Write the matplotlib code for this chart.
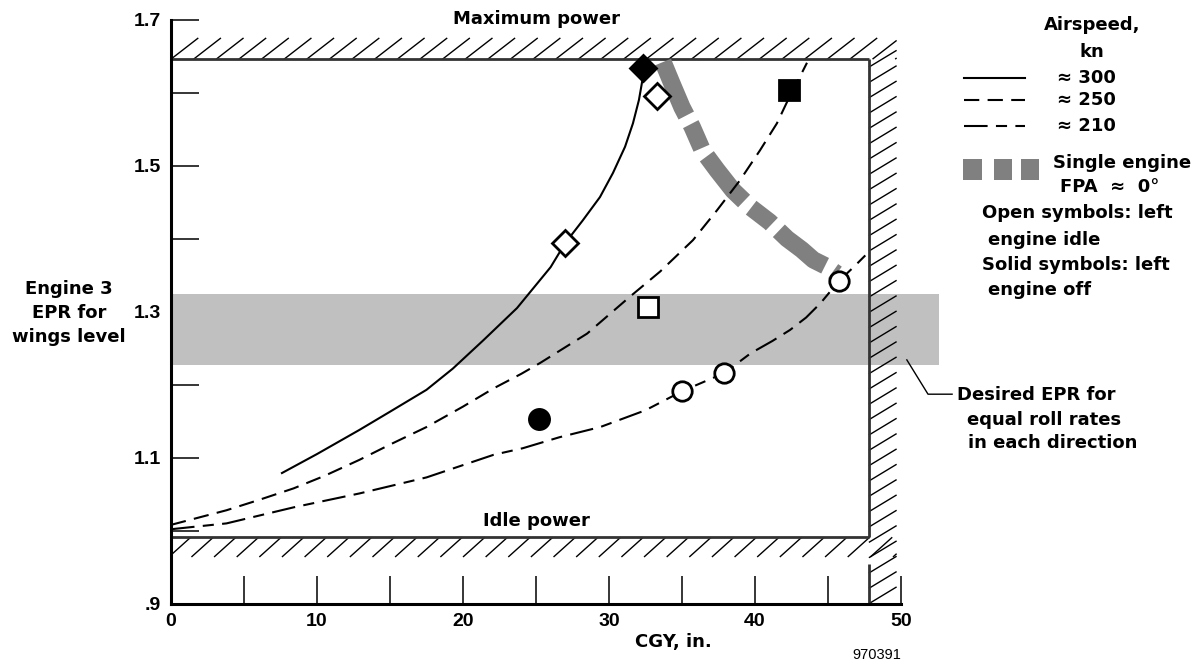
import matplotlib
matplotlib.use("Agg")
import matplotlib.pyplot as plt
from matplotlib.lines import Line2D
from matplotlib.patches import Rectangle
import numpy as np

plt.rcParams['font.family'] = ['Liberation Sans', 'DejaVu Sans']
plt.rcParams['font.weight'] = 'bold'
plt.rcParams['lines.scale_dashes'] = False

# ---------------- data ----------------
x300 = [7.6, 10.0, 12.9, 15.0, 17.5, 19.3, 21.4, 23.7, 26.0, 27.0, 28.2, 29.38, 30.27, 31.10, 31.64, 32.05, 32.33, 32.60]
y300 = [1.079, 1.105, 1.138, 1.163, 1.193, 1.222, 1.261, 1.305, 1.361, 1.394, 1.425, 1.457, 1.490, 1.526, 1.558, 1.590, 1.622, 1.640]

x250 = [0.0, 1.9, 3.8, 6.0, 8.4, 10.5, 12.9, 15.0, 17.5, 20.0, 22.1, 24.0, 25.3, 28.5, 31.4, 33.5, 35.75, 37.4, 38.97, 40.34, 41.5, 42.33, 43.08, 43.56]
y250 = [1.008, 1.018, 1.028, 1.042, 1.058, 1.075, 1.097, 1.118, 1.142, 1.170, 1.195, 1.215, 1.230, 1.270, 1.320, 1.355, 1.398, 1.439, 1.480, 1.521, 1.558, 1.593, 1.622, 1.641]

x210 = [0.0, 3.8, 8.4, 12.9, 17.5, 22.1, 24.1, 26.6, 29.4, 32.5, 35.0, 37.9, 39.7, 41.2, 42.4, 43.5, 44.5, 45.75, 46.8, 47.7]
y210 = [1.002, 1.010, 1.032, 1.051, 1.073, 1.104, 1.113, 1.128, 1.142, 1.165, 1.191, 1.216, 1.243, 1.260, 1.275, 1.292, 1.312, 1.342, 1.362, 1.380]

x_fpa = [33.7, 34.3, 35.0, 35.7, 36.4, 37.4, 38.5, 39.7, 41.0, 42.2, 43.2, 44.0, 44.9, 45.6]
y_fpa = [1.642, 1.613, 1.580, 1.553, 1.521, 1.494, 1.466, 1.443, 1.423, 1.400, 1.385, 1.371, 1.362, 1.352]

open_diamond_x = [27.0, 33.3]
open_diamond_y = [1.394, 1.595]
solid_diamond_x = [32.3]
solid_diamond_y = [1.634]
open_square_x = [32.7]
open_square_y = [1.306]
solid_square_x = [42.3]
solid_square_y = [1.604]
open_circle_x = [35.0, 37.9, 45.75]
open_circle_y = [1.191, 1.216, 1.342]
solid_circle_x = [25.2]
solid_circle_y = [1.153]

max_power = 1.646
idle_power = 0.991
cgy_limit = 47.8
desired_band = (1.227, 1.324)

xticks_major = [0, 10, 20, 30, 40, 50]
xticks_minor = [5, 15, 25, 35, 45]
yticks_major = [0.9, 1.1, 1.3, 1.5, 1.7]
ytick_labels = ['.9', '1.1', '1.3', '1.5', '1.7']
yticks_minor = [1.0, 1.2, 1.4, 1.6]

# ---------------- figure ----------------
W, H = 1198, 664
fig = plt.figure(figsize=(W / 100, H / 100), dpi=100)
fig.patch.set_facecolor('white')

def fx(px):
    return px / W

def fy(py):
    return 1 - py / H

ax = fig.add_axes([fx(171), fy(603.7), 730 / W, 584 / H])
ax.set_xlim(0, 50)
ax.set_ylim(0.9, 1.7)
ax.patch.set_alpha(0)
for s in ['top', 'right']:
    ax.spines[s].set_visible(False)
ax.spines['left'].set_linewidth(2.2)
ax.spines['bottom'].set_linewidth(2.2)
ax.spines['left'].set_zorder(6)
ax.spines['bottom'].set_zorder(6)

ax.set_xticks(xticks_major)
ax.set_xticks(xticks_minor, minor=True)
ax.set_yticks(yticks_major)
ax.set_yticklabels(ytick_labels)
ax.set_yticks(yticks_minor, minor=True)
ax.tick_params(which='both', direction='in', length=20, width=1.1, color='black')
ax.tick_params(axis='x', which='major', labelsize=14, pad=7)
ax.tick_params(axis='y', which='major', labelsize=14, pad=7)
for lab in ax.get_xticklabels() + ax.get_yticklabels():
    lab.set_fontweight('bold')

# desired EPR band
ax.add_patch(Rectangle((0, desired_band[0]), 52.6, desired_band[1] - desired_band[0],
                       facecolor='#c0c0c0', edgecolor='none', zorder=2, clip_on=False))

# boundary lines
bc = '#333333'
ax.plot([0, cgy_limit], [max_power, max_power], color=bc, lw=2.0, zorder=3.2, solid_capstyle='butt')
ax.plot([0, cgy_limit], [idle_power, idle_power], color=bc, lw=2.0, zorder=3.2, solid_capstyle='butt')
ax.plot([cgy_limit, cgy_limit], [idle_power, max_power], color=bc, lw=2.0, zorder=3.2, solid_capstyle='butt')
ax.plot([cgy_limit, cgy_limit], [0.9, 0.955], color=bc, lw=2.0, zorder=3.2, solid_capstyle='butt')

# hatching
def clip_seg(x0, y0, x1, y1, xmin, xmax):
    t0 = max(0.0, (xmin - x0) / (x1 - x0))
    t1 = min(1.0, (xmax - x0) / (x1 - x0))
    if t1 <= t0:
        return None
    return (x0 + t0 * (x1 - x0), y0 + t0 * (y1 - y0),
            x0 + t1 * (x1 - x0), y0 + t1 * (y1 - y0))

hatch_right = 49.7
hkw = dict(color='black', lw=1.0, zorder=3.1, clip_on=False, solid_capstyle='butt')
top_hi = 1.675
for x0 in np.arange(0, hatch_right, 1.55):
    seg = clip_seg(x0, max_power, x0 + 1.87, top_hi, 0, hatch_right)
    if seg:
        ax.plot([seg[0], seg[2]], [seg[1], seg[3]], **hkw)
low_lo = 0.964
for x0 in np.arange(-0.15, hatch_right, 1.55):
    seg = clip_seg(x0, low_lo, x0 + 1.5, idle_power, 0, hatch_right)
    if seg:
        ax.plot([seg[0], seg[2]], [seg[1], seg[3]], **hkw)
for y0 in np.arange(0.9, top_hi - 0.02, 0.021):
    ax.plot([cgy_limit, hatch_right], [y0, y0 + 0.023], **hkw)

# curves
ax.plot(x_fpa, y_fpa, color='#808080', lw=12.5, solid_capstyle='butt',
        dash_capstyle='butt', dash_joinstyle='round', linestyle=(0, (42, 7, 19, 7)), zorder=3.5)
ax.plot(x300, y300, color='black', lw=1.5, zorder=4)
ax.plot(x250, y250, color='black', lw=1.5, linestyle=(0, (11, 6)), zorder=4)
ax.plot(x210, y210, color='black', lw=1.5, linestyle=(0, (17, 6, 8, 6)), zorder=4)

# markers
mk = dict(linestyle='none', markeredgecolor='black', markeredgewidth=2.0, zorder=5, clip_on=False)
ax.plot(open_diamond_x, open_diamond_y, marker='D', ms=13, markerfacecolor='white', **mk)
ax.plot(solid_diamond_x, solid_diamond_y, marker='D', ms=13, markerfacecolor='black', **mk)
ax.plot(open_square_x, open_square_y, marker='s', ms=14, markerfacecolor='white', **mk)
ax.plot(solid_square_x, solid_square_y, marker='s', ms=14.5, markerfacecolor='black', **mk)
ax.plot(open_circle_x, open_circle_y, marker='o', ms=14, markerfacecolor='white', **mk)
ax.plot(solid_circle_x, solid_circle_y, marker='o', ms=14.5, markerfacecolor='black', **mk)

# annotation leader
ax.plot([50.4, 51.85, 53.5], [1.234, 1.187, 1.187], color='black', lw=1.0, zorder=4, clip_on=False)

# texts
tkw = dict(fontsize=13, fontweight='bold', color='black', family=['DejaVu Sans'])
ax.text(25.05, 1.701, 'Maximum power', ha='center', va='center', **tkw)
ax.text(25.05, 1.0133, 'Idle power', ha='center', va='center', **tkw)

fig.text(fx(69), fy(313), 'Engine 3\nEPR for\nwings level', ha='center', va='center',
         multialignment='center', linespacing=1.4, **tkw)
fig.text(fx(673), fy(642), 'CGY, in.', ha='center', va='center', **tkw)
fig.text(fx(877), fy(655), '970391', ha='center', va='center', fontsize=10.5,
         fontweight='normal', family=['Liberation Sans'])

# legend
fig.text(fx(1092), fy(25), 'Airspeed,', ha='center', va='center', **tkw)
fig.text(fx(1092), fy(52), 'kn', ha='center', va='center', **tkw)
leg_styles = ['-', (0, (11, 6)), (0, (17, 6, 8, 6))]
leg_labels = ['\u2248 300', '\u2248 250', '\u2248 210']
leg_y = [78, 100, 126]
for ls, lab, py in zip(leg_styles, leg_labels, leg_y):
    fig.add_artist(Line2D([fx(964), fx(1025)], [fy(py), fy(py)], color='black', lw=1.5,
                          linestyle=ls, transform=fig.transFigure))
    fig.text(fx(1057), fy(py), lab, ha='left', va='center', **tkw)
for x0, x1 in [(963, 982), (994, 1012), (1021, 1039)]:
    fig.add_artist(Rectangle((fx(x0), fy(180)), fx(x1) - fx(x0), fy(159) - fy(180),
                             facecolor='#808080', edgecolor='none', transform=fig.transFigure))
fig.text(fx(1053), fy(163), 'Single engine', ha='left', va='center', **tkw)
fig.text(fx(1060), fy(187), 'FPA  \u2248  0\u00b0', ha='left', va='center', **tkw)
fig.text(fx(982), fy(213), 'Open symbols: left', ha='left', va='center', **tkw)
fig.text(fx(988), fy(240), 'engine idle', ha='left', va='center', **tkw)
fig.text(fx(982), fy(265), 'Solid symbols: left', ha='left', va='center', **tkw)
fig.text(fx(988), fy(290), 'engine off', ha='left', va='center', **tkw)
fig.text(fx(957), fy(395), 'Desired EPR for', ha='left', va='center', **tkw)
fig.text(fx(967), fy(420), 'equal roll rates', ha='left', va='center', **tkw)
fig.text(fx(968), fy(443), 'in each direction', ha='left', va='center', **tkw)

fig.savefig('out.png', dpi=100, facecolor='white')
